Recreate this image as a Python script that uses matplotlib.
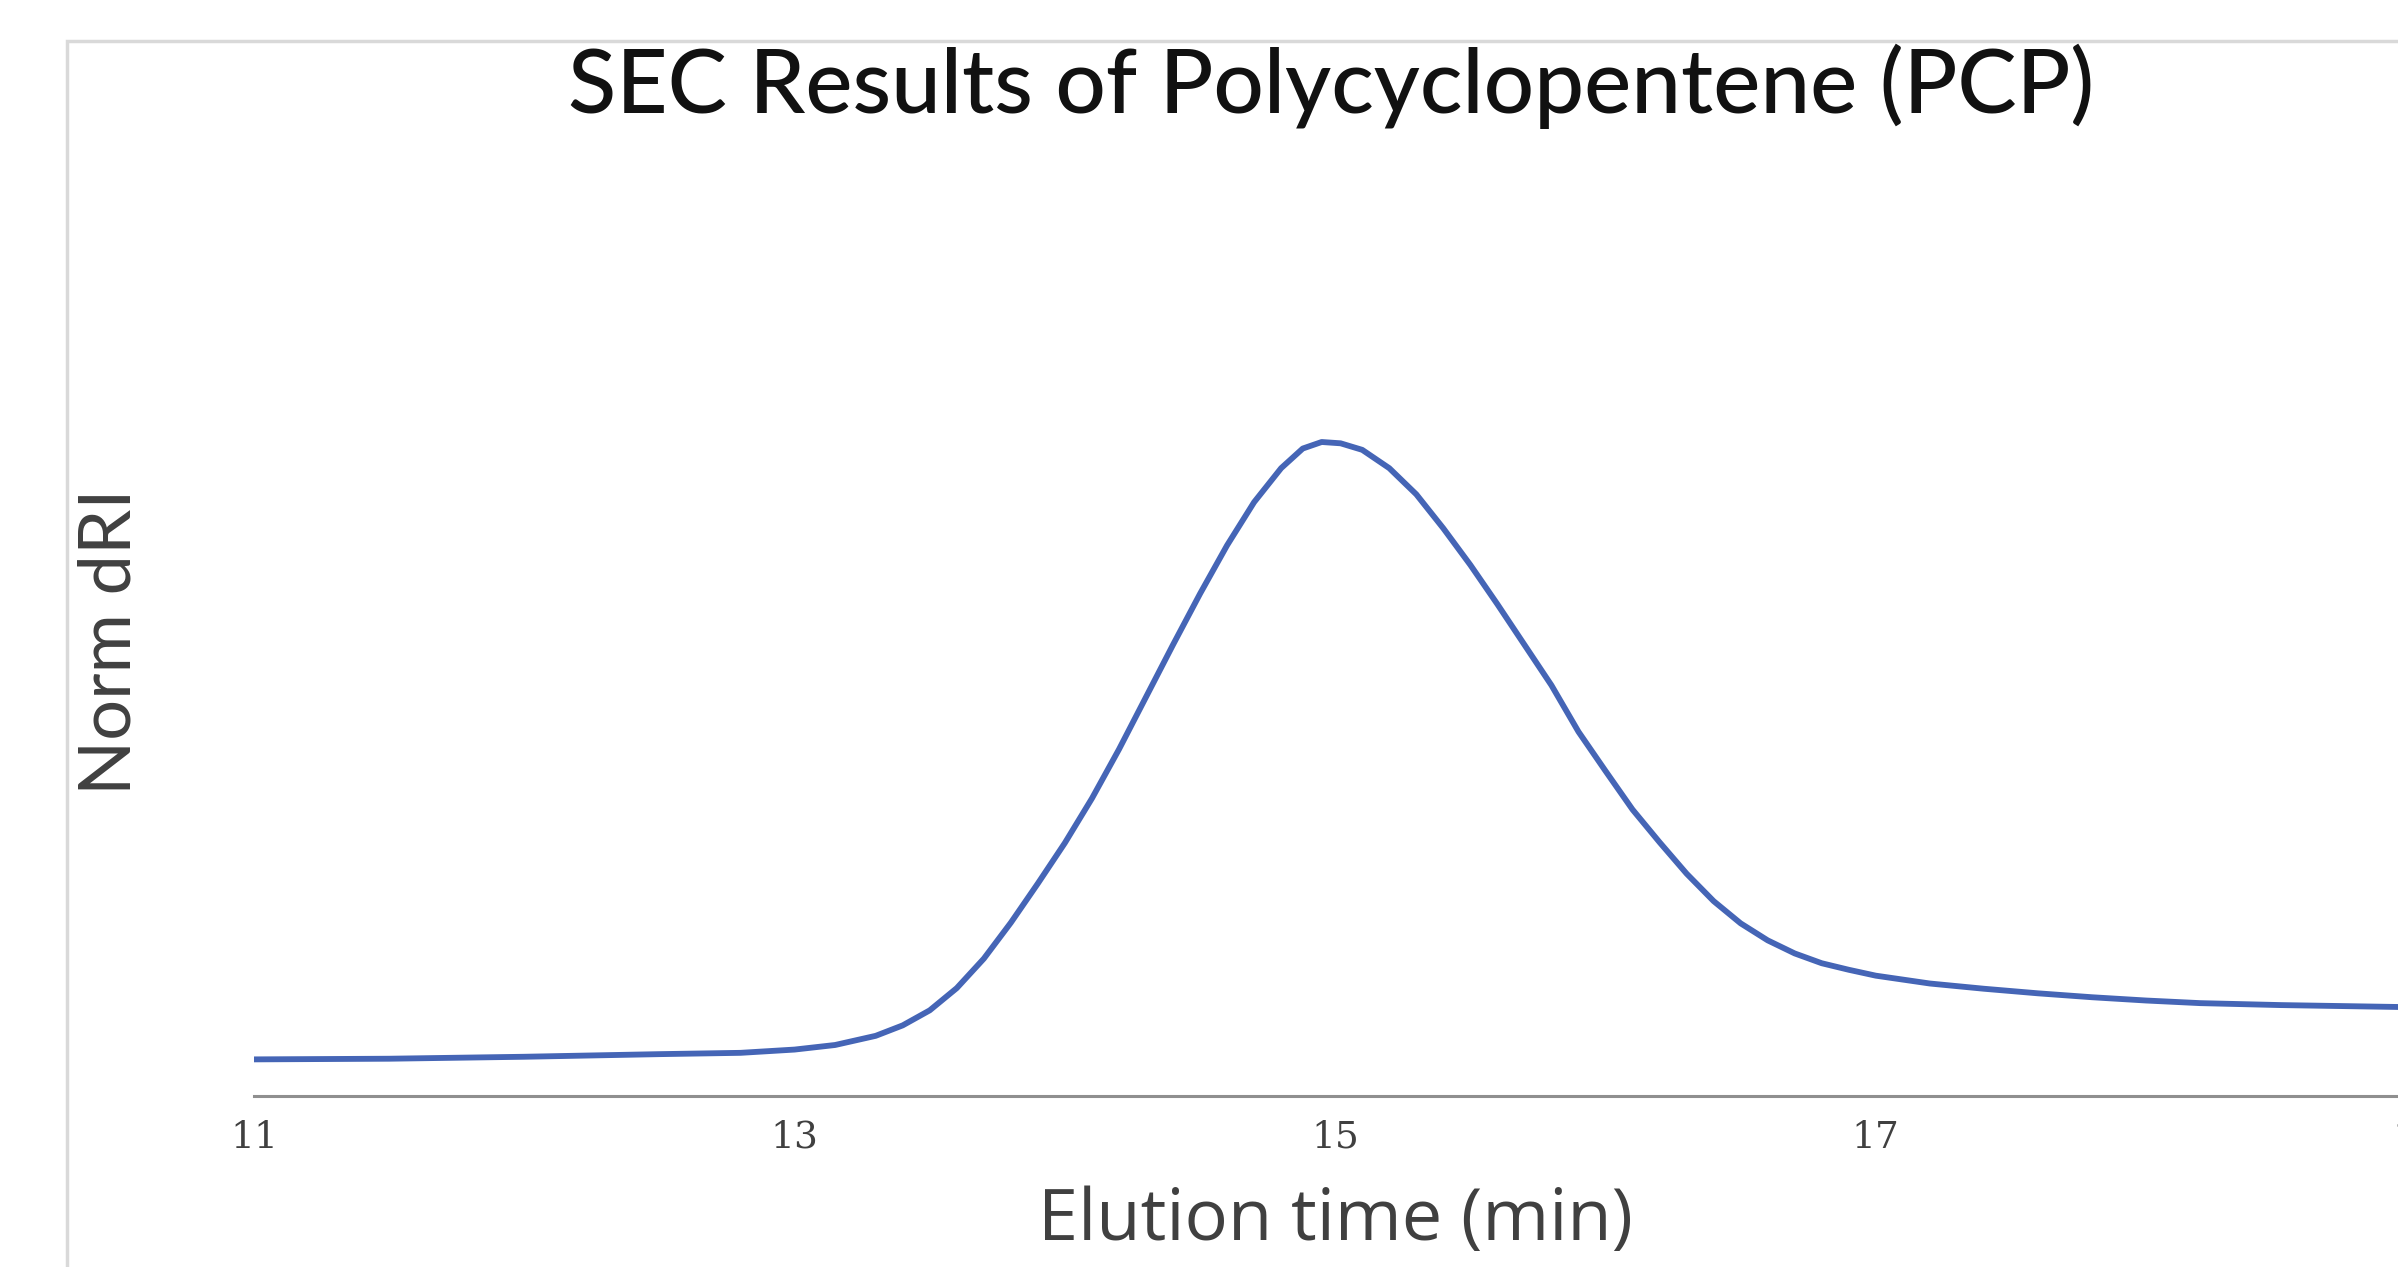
import matplotlib
matplotlib.use("Agg")
import matplotlib.pyplot as plt
from matplotlib.patches import Rectangle

# Data
elution_time = [11.0, 11.5, 12.0, 12.5, 12.8, 13.0, 13.15, 13.3, 13.4, 13.5,
                13.6, 13.7, 13.8, 13.9, 14.0, 14.1, 14.2, 14.3, 14.4, 14.5,
                14.6, 14.7, 14.8, 14.88, 14.95, 15.02, 15.1, 15.2, 15.3, 15.4,
                15.5, 15.6, 15.7, 15.8, 15.9, 16.0, 16.1, 16.2, 16.3, 16.4,
                16.5, 16.6, 16.7, 16.8, 16.9, 17.0, 17.2, 17.4, 17.6, 17.8,
                18.0, 18.2, 18.5, 18.95]
norm_dri = [0.056, 0.057, 0.060, 0.064, 0.066, 0.071, 0.078, 0.092, 0.108, 0.131,
            0.165, 0.210, 0.265, 0.325, 0.387, 0.455, 0.530, 0.610, 0.690, 0.768,
            0.842, 0.908, 0.960, 0.990, 1.000, 0.998, 0.988, 0.960, 0.920, 0.868,
            0.812, 0.752, 0.690, 0.628, 0.557, 0.497, 0.438, 0.388, 0.340, 0.298,
            0.264, 0.238, 0.218, 0.203, 0.193, 0.184, 0.172, 0.164, 0.157, 0.151,
            0.146, 0.142, 0.139, 0.136]
xtick_values = [11, 13, 15, 17, 19]
xtick_labels = ["11", "13", "15", "17", "19"]

title = "SEC Results of Polycyclopentene (PCP)"
xlabel = "Elution time (min)"
ylabel = "Norm dRI"

W, H = 2398, 1267
fig = plt.figure(figsize=(W / 100, H / 100), dpi=100)
fig.patch.set_facecolor("white")

# outer chart frame (light gray), extends past the cropped right/bottom edge
fig.patches.append(Rectangle((67 / W, -0.1), 1.2, (1 - 41 / H) + 0.1,
                             transform=fig.transFigure, fill=False,
                             edgecolor="#d9d9d9", linewidth=2.5, zorder=0))

# axes: x=11 at 254px, 1 unit = 270.3px; y=0 at 1096px from top, 1 unit = 654px
left = 254 / W
xmax = 19.6
width = (xmax - 11) * 270.3 / W
bottom = (H - 1096) / H
ymax = 1.2
height = ymax * 654 / H
ax = fig.add_axes([left, bottom, width, height])
ax.set_facecolor("none")

ax.plot(elution_time, norm_dri, color="#4565B6", linewidth=4.2,
        solid_capstyle="round", solid_joinstyle="round")

ax.set_xlim(11, xmax)
ax.set_ylim(0, ymax)
for s in ["top", "right", "left"]:
    ax.spines[s].set_visible(False)
ax.spines["bottom"].set_color("#8f8f8f")
ax.spines["bottom"].set_linewidth(2.2)
ax.set_yticks([])
ax.set_xticks(xtick_values)
ax.set_xticklabels(xtick_labels)
ax.tick_params(axis="x", length=0, pad=17, labelsize=27, labelcolor="#404040")
for lab in ax.get_xticklabels():
    lab.set_family("DejaVu Serif")

fig.text(1331 / W, 1 - 113 / H, title, ha="center", va="baseline",
         fontsize=64, family="Lato", weight="medium", color="#111111")
fig.text(110 / W, 1 - 642 / H, ylabel, ha="center", va="center", rotation=90,
         fontsize=52, family="Lato", color="#404040")
fig.text(1335 / W, 1 - 1240 / H, xlabel, ha="center", va="baseline",
         fontsize=52, family="Open Sans", color="#404040")

fig.savefig("out.png", dpi=100, facecolor="white")
